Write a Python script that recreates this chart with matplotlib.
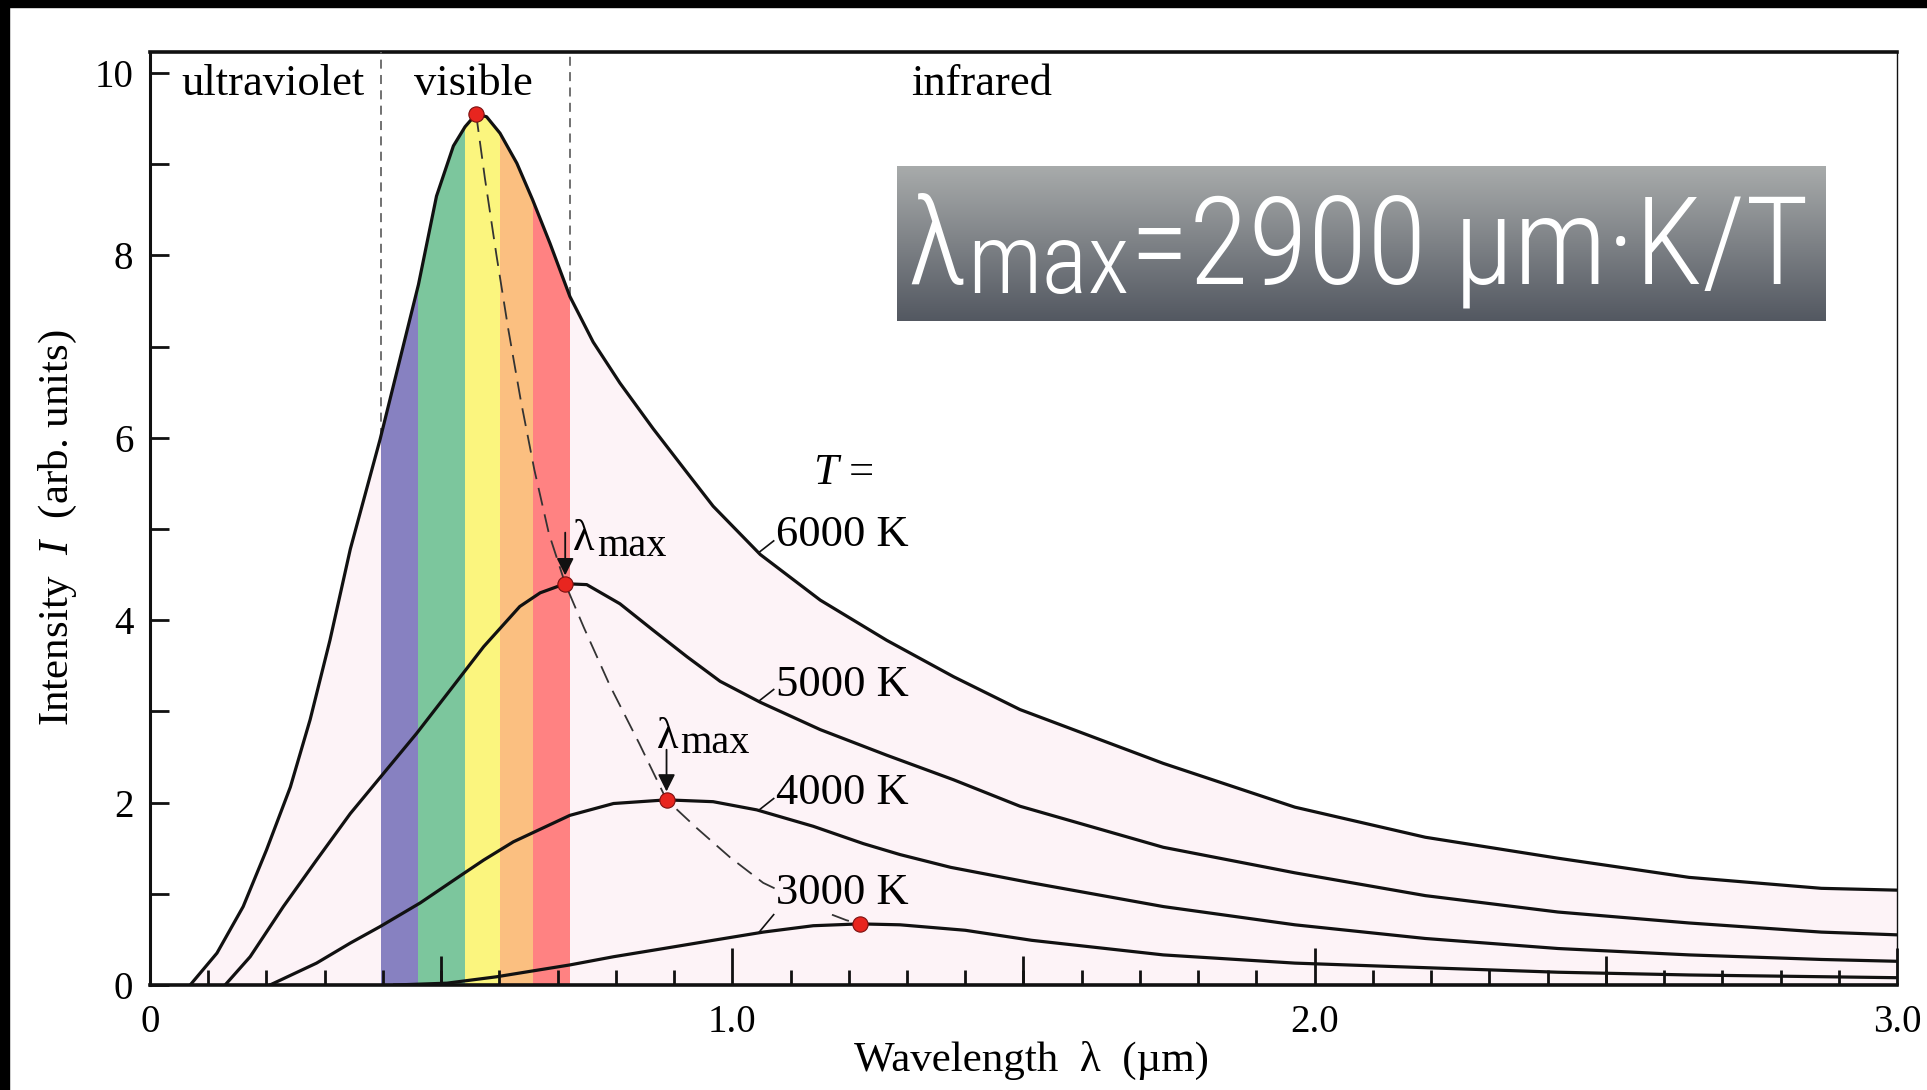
import numpy as np
import matplotlib
matplotlib.use('Agg')
import matplotlib.pyplot as plt
from matplotlib import font_manager
from matplotlib.patches import Rectangle
from matplotlib.colors import LinearSegmentedColormap

plt.rcParams['font.family'] = ['Liberation Serif', 'DejaVu Serif']
plt.rcParams['mathtext.fontset'] = 'custom'
plt.rcParams['mathtext.rm'] = 'Liberation Serif'
plt.rcParams['mathtext.it'] = 'Liberation Serif:italic'

# curves: wavelength (um), intensity (arb. units)
lam6 = [0.069, 0.115, 0.160, 0.200, 0.241, 0.275, 0.309, 0.344, 0.395, 0.461, 0.492, 0.521,
        0.541, 0.560, 0.578, 0.601, 0.630, 0.657, 0.687, 0.721, 0.761, 0.807, 0.864, 0.922,
        0.967, 1.048, 1.151, 1.265, 1.380, 1.494, 1.740, 1.966, 2.190, 2.418, 2.643, 2.870, 3.000]
int6 = [0.00, 0.35, 0.86, 1.48, 2.17, 2.91, 3.78, 4.78, 5.98, 7.68, 8.65, 9.20,
        9.41, 9.55, 9.52, 9.34, 9.01, 8.61, 8.13, 7.55, 7.05, 6.60, 6.10, 5.62,
        5.25, 4.72, 4.22, 3.78, 3.38, 3.02, 2.43, 1.95, 1.62, 1.39, 1.18, 1.06, 1.04]

lam5 = [0.129, 0.172, 0.229, 0.286, 0.344, 0.401, 0.458, 0.515, 0.573, 0.635, 0.670, 0.713,
        0.750, 0.807, 0.864, 0.922, 0.979, 1.048, 1.151, 1.265, 1.380, 1.494, 1.740, 1.966,
        2.190, 2.418, 2.643, 2.870, 3.000]
int5 = [0.00, 0.31, 0.86, 1.37, 1.88, 2.32, 2.76, 3.23, 3.71, 4.15, 4.30, 4.40,
        4.39, 4.18, 3.89, 3.60, 3.33, 3.10, 2.80, 2.52, 2.25, 1.96, 1.51, 1.23,
        0.98, 0.80, 0.68, 0.58, 0.55]

lam4 = [0.206, 0.286, 0.344, 0.395, 0.464, 0.538, 0.573, 0.624, 0.721, 0.796, 0.887, 0.967,
        1.042, 1.139, 1.225, 1.288, 1.375, 1.514, 1.740, 1.966, 2.190, 2.418, 2.643, 2.870, 3.000]
int4 = [0.00, 0.24, 0.46, 0.64, 0.90, 1.22, 1.37, 1.57, 1.86, 1.99, 2.03, 2.01,
        1.92, 1.74, 1.55, 1.43, 1.29, 1.12, 0.86, 0.66, 0.51, 0.40, 0.33, 0.28, 0.26]

lam3 = [0.420, 0.510, 0.595, 0.653, 0.721, 0.796, 0.882, 0.967, 1.053, 1.139, 1.219, 1.288,
        1.400, 1.514, 1.740, 1.966, 2.190, 2.418, 2.643, 3.000]
int3 = [0.00, 0.02, 0.09, 0.15, 0.22, 0.31, 0.40, 0.49, 0.58, 0.65, 0.67, 0.66,
        0.60, 0.49, 0.33, 0.24, 0.19, 0.14, 0.11, 0.08]

# wien locus (dashed) and the peaks
lamw = [0.560, 0.575, 0.595, 0.615, 0.637, 0.660, 0.685, 0.713, 0.745, 0.790, 0.840, 0.887,
        0.939, 0.996, 1.053, 1.151, 1.196, 1.219]
intw = [9.55, 8.85, 8.00, 7.20, 6.40, 5.65, 4.95, 4.40, 3.92, 3.28, 2.65, 2.03,
        1.72, 1.40, 1.12, 0.82, 0.71, 0.67]
pk_lam = [0.560, 0.713, 0.887, 1.219]
pk_int = [9.55, 4.40, 2.03, 0.67]

temps = ['6000 K', '5000 K', '4000 K', '3000 K']
band_edges = [0.396, 0.461, 0.541, 0.601, 0.657, 0.721]
band_colors = ['#8781c1', '#7cc69d', '#fbf57e', '#fbbf80', '#ff8282']
regions = ['ultraviolet', 'visible', 'infrared']
xticks = [0, 1, 2, 3]
xtick_labels = ['0', '1.0', '2.0', '3.0']
yticks = [0, 2, 4, 6, 8, 10]

W, H = 1927, 1090
def fx(px):
    return px / W
def fy(py):
    return 1 - py / H

pink = '#fdf3f7'

fig = plt.figure(figsize=(W / 100, H / 100), dpi=100)
ax = fig.add_axes([fx(150), fy(985), fx(1897) - fx(150), fy(52) - fy(985)])
ax.set_xlim(0, 3.0)
ax.set_ylim(0, 10.23)

# pink area under the hottest curve, colour bands clipped by it
fill = ax.fill_between(lam6, int6, color=pink, lw=0, zorder=1)
clip = fill.get_paths()[0]
for a, b, c in zip(band_edges[:-1], band_edges[1:], band_colors):
    r = ax.axvspan(a, b, color=c, lw=0, zorder=1.5)
    r.set_clip_path(clip, ax.transData)

# dashed region borders
for x in (band_edges[0], band_edges[-1]):
    ax.plot([x, x], [np.interp(x, lam6, int6), 10.23], color='#666666', lw=1.3,
            dashes=(5, 3.5), zorder=3)

curves = [(lam6, int6), (lam5, int5), (lam4, int4), (lam3, int3)]
for lam, inten in curves:
    ax.plot(lam, inten, color='#111111', lw=2.3, zorder=4, solid_joinstyle='round')

ax.plot(lamw, intw, color='#333333', lw=1.3, dashes=(10, 5), zorder=3.5)
ax.plot(pk_lam, pk_int, 'o', color='#e8251f', mec='#7a1010', mew=0.8, ms=11, zorder=6)

# temperature labels and leaders
label_y = [4.93, 3.29, 2.11, 1.01]
for (lam, inten), name, ly in zip(curves, temps, label_y):
    x0 = 1.045
    y0 = np.interp(x0, lam, inten)
    rise = 0.2 if name == '3000 K' else 0.13
    ax.plot([x0, 1.071], [y0, y0 + rise], color='#111111', lw=1.2, zorder=5)
    bbox = dict(fc=pink, ec='none', pad=0.5) if name == '3000 K' else None
    ax.text(1.075, ly, name, fontsize=32, va='center', ha='left', zorder=5, bbox=bbox)
ax.text(1.19, 5.61, '$T$ =', fontsize=32, va='center', ha='center', zorder=5)

# lambda max labels with arrows
for i, (lx, ly, tail) in zip([1, 2], [(0.727, 4.77, 4.96), (0.870, 2.60, 2.58)]):
    ax.annotate('', xy=(pk_lam[i], pk_int[i]), xytext=(pk_lam[i], tail),
                arrowprops=dict(arrowstyle='-|>', color='#111111', lw=1.3,
                                mutation_scale=26, shrinkA=0, shrinkB=6), zorder=5)
    ax.text(lx, ly, 'λ', fontsize=32, va='baseline', ha='left', zorder=5)
    ax.annotate('max', xy=(lx, ly), xytext=(17, -4), textcoords='offset points',
                fontsize=29, va='baseline', ha='left', zorder=5)

for name, x in zip(regions, [0.211, 0.555, 1.428]):
    ax.text(x, 0.966, name, fontsize=32, ha='center', va='center',
            transform=ax.get_xaxis_transform())

# axes styling
for side, lw in [('top', 2.6), ('left', 2.2), ('bottom', 2.6), ('right', 1.0)]:
    ax.spines[side].set_linewidth(lw)
    ax.spines[side].set_color('#111111')
ax.set_xticks(xticks)
ax.set_xticklabels(xtick_labels)
ax.set_xticks(np.arange(0, 3.01, 0.1), minor=True)
ax.set_yticks(yticks)
ax.set_yticklabels([str(v) for v in yticks])
ax.set_yticks(np.arange(1, 10, 2), minor=True)
ax.tick_params(axis='both', which='both', direction='in', top=False, right=False,
               width=2.0, color='#111111', labelsize=28)
ax.tick_params(axis='x', which='major', length=27, pad=14)
ax.tick_params(axis='x', which='minor', length=11)
ax.tick_params(axis='y', which='both', length=13.5, pad=12)
ax.vlines([0.5, 1.5, 2.5], 0, 29 / 933, transform=ax.get_xaxis_transform(),
          color='#111111', lw=2.0, zorder=5)

fig.text(fx(1031), fy(1060), 'Wavelength  λ  (µm)', fontsize=31, ha='center', va='center')
fig.text(fx(58), fy(528), 'Intensity  $I$  (arb. units)', fontsize=31, ha='center',
         va='center', rotation=90)

# grey formula box
bax = fig.add_axes([fx(897), fy(321), fx(1826) - fx(897), fy(166) - fy(321)])
grad = np.linspace(0, 1, 256).reshape(-1, 1)
bax.imshow(grad, aspect='auto', extent=(0, 1, 0, 1),
           cmap=LinearSegmentedColormap.from_list('g', ['#a8abab', '#535861']))
bax.axis('off')

box_font = 'Roboto'
for cand in ['Roboto Condensed', 'Liberation Sans Narrow']:
    try:
        font_manager.findfont(font_manager.FontProperties(family=cand),
                              fallback_to_default=False)
        box_font = cand
        break
    except ValueError:
        pass

rend = fig.canvas.get_renderer()
def formula(scale):
    parts = [('λ', 80, 284), ('max', 64, 293), ('=2900 µm·K/T', 80, 284)]
    x = 907
    made = []
    for s, size, base in parts:
        t = fig.text(fx(x), fy(base), s, color='white', fontsize=size * scale,
                     family=[box_font, 'Roboto', 'DejaVu Sans'], fontweight='light',
                     ha='left', va='baseline', zorder=10)
        x = t.get_window_extent(rend).x1 + 1
        made.append(t)
    return made, x

made, right = formula(1.0)
for t in made:
    t.remove()
formula((1811 - 907) / (right - 907))

fig.add_artist(Rectangle((0, fy(7)), 1, 7 / H, transform=fig.transFigure,
                         color='black', zorder=20))
fig.add_artist(Rectangle((0, 0), fx(9), 1, transform=fig.transFigure,
                         color='black', zorder=20))

fig.savefig('out.png', dpi=100, facecolor='white')
